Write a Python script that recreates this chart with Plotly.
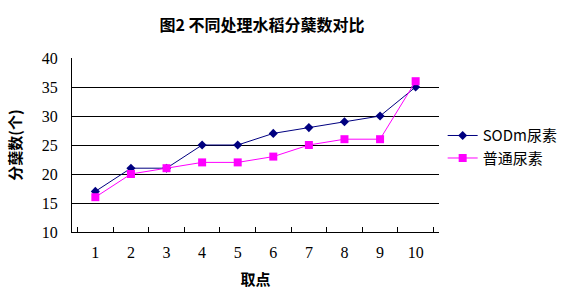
import plotly.graph_objects as go

categories = ["1", "2", "3", "4", "5", "6", "7", "8", "9", "10"]
sod_values = [17, 21, 21, 25, 25, 27, 28, 29, 30, 35]
normal_values = [16, 20, 21, 22, 22, 23, 25, 26, 26, 36]
series_names = ["SODm尿素", "普通尿素"]
y_ticks = [10, 15, 20, 25, 30, 35, 40]

serif = "Liberation Serif, DejaVu Serif, serif"
cjk = "Noto Sans CJK SC"

fig = go.Figure()
fig.add_trace(go.Scatter(
    x=categories, y=sod_values, name=series_names[0], mode="lines+markers",
    line=dict(color="#000080", width=1),
    marker=dict(symbol="diamond", size=7, color="#000080"),
))
fig.add_trace(go.Scatter(
    x=categories, y=normal_values, name=series_names[1], mode="lines+markers",
    line=dict(color="#FF00FF", width=1),
    marker=dict(symbol="square", size=8, color="#FF00FF"),
))

fig.update_layout(
    width=573, height=302,
    margin=dict(l=72, r=134, t=58, b=70, autoexpand=False),
    paper_bgcolor="white", plot_bgcolor="white",
    title=dict(text="<b>图2 不同处理水稻分蘖数对比</b>", x=262/573, xanchor="center",
               y=1-25/302, yanchor="middle",
               font=dict(family=cjk, size=16, color="black")),
    showlegend=True,
    legend=dict(x=1.01, xanchor="left", y=0.49, yanchor="middle",
                font=dict(family=cjk, size=15, color="black"),
                bgcolor="rgba(0,0,0,0)", tracegroupgap=0, itemwidth=30),
    font=dict(family=serif, color="black"),
)
fig.update_xaxes(
    type="category", tickson="boundaries", ticks="inside", ticklen=5,
    tickcolor="black", showline=True, linecolor="black", linewidth=1,
    showgrid=False, tickfont=dict(family=serif, size=16, color="black"),
    ticklabelstandoff=6,
    title=dict(text="<b>取点</b>", font=dict(family=cjk, size=15, color="black"), standoff=14),
)
fig.update_yaxes(
    range=[10, 40], tickvals=y_ticks, showline=True, linecolor="black", linewidth=1,
    showgrid=True, gridcolor="black", gridwidth=1, zeroline=False, ticks="",
    tickfont=dict(family=serif, size=16, color="black"),
    ticklabelstandoff=10,
    title=dict(text="<b>分蘖数(个)</b>", font=dict(family=cjk, size=15, color="black"), standoff=16),
)

fig.write_html("out.html")
